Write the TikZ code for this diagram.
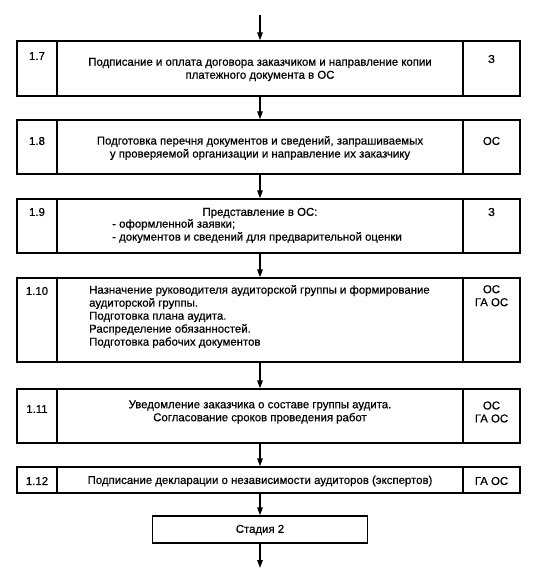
\documentclass[tikz,border=0pt]{standalone}
\usepackage{fontspec}
\setmainfont{Liberation Sans}[FakeBold=0.6]
\usetikzlibrary{arrows.meta}
\begin{document}
\begin{tikzpicture}[x=1pt,y=-1pt,
  cell/.style={draw,line width=1.4pt,inner sep=0pt,minimum width=#1},
  txt/.style={inner sep=0pt,font=\fontsize{11.4}{13}\selectfont},
  arr/.style={line width=1.5pt,-{Triangle[length=8pt,width=5.5pt]}}]
\useasboundingbox (0,0) rectangle (548,573);
% rows: left 17-57, main 57-463, right 463-520
\foreach \r/\t/\b in {7/41/96,8/120/174,9/199/253,10/278/362,11/389/443,12/467/493}{
  \node[cell=40pt,minimum height={\b-\t}] (a\r) at (37,{(\t+\b)/2}) {};
  \node[cell=406pt,minimum height={\b-\t}] (m\r) at (260,{(\t+\b)/2}) {};
  \node[cell=57pt,minimum height={\b-\t}] (c\r) at (491.5,{(\t+\b)/2}) {};
}
\node[cell=215pt,minimum height=27pt] (st) at (260,529.5) {};
\coordinate (top) at (260,15);
\coordinate (bot) at (260,568);
% number labels
\node[txt] (l7) at (37,56) {1.7};
\node[txt] (l8) at (37,141) {1.8};
\node[txt] (l9) at (37,212) {1.9};
\node[txt] (l10) at (37,291) {1.10};
\node[txt] (l11) at (37,409) {1.11};
\node[txt] (l12) at (37,481) {1.12};
% responsible
\node[txt] (r7) at (491.5,59) {З};
\node[txt] (r8) at (491.5,141) {ОС};
\node[txt] (r9) at (491.5,212) {З};
\node[txt,align=center,anchor=north] (r10) at (491.5,285) {ОС\\ГА ОС};
\node[txt,align=center] (r11) at (491.5,412) {ОС\\ГА ОС};
\node[txt] (r12) at (491.5,481) {ГА ОС};
% main texts
\node[txt,align=center] (t7) at (260,69.5) {Подписание и оплата договора заказчиком и направление копии\\платежного документа в ОС};
\node[txt,align=center] (t8) at (260,148) {Подготовка перечня документов и сведений, запрашиваемых\\у проверяемой организации и направление их заказчику};
\node[txt] (t9) at (260,213) {Представление в ОС:};
\node[txt,align=left,anchor=north west] (t9b) at (112,219) {- оформленной заявки;\\- документов и сведений для предварительной оценки};
\node[txt,align=left,anchor=north west] (t10) at (89,285) {Назначение руководителя аудиторской группы и формирование\\аудиторской группы.\\Подготовка плана аудита.\\Распределение обязанностей.\\Подготовка рабочих документов};
\node[txt,align=center] (t11) at (260,412) {Уведомление заказчика о составе группы аудита.\\Согласование сроков проведения работ};
\node[txt] (t12) at (260,481) {Подписание декларации о независимости аудиторов (экспертов)};
\node[txt] (tst) at (260,530) {Стадия 2};
% arrows
\draw[arr] (top) -- (m7.north);
\draw[arr] (m7.south) -- (m8.north);
\draw[arr] (m8.south) -- (m9.north);
\draw[arr] (m9.south) -- (m10.north);
\draw[arr] (m10.south) -- (m11.north);
\draw[arr] (m11.south) -- (m12.north);
\draw[arr] (m12.south) -- (st.north);
\draw[arr] (st.south) -- (bot);
\end{tikzpicture}
\end{document}
